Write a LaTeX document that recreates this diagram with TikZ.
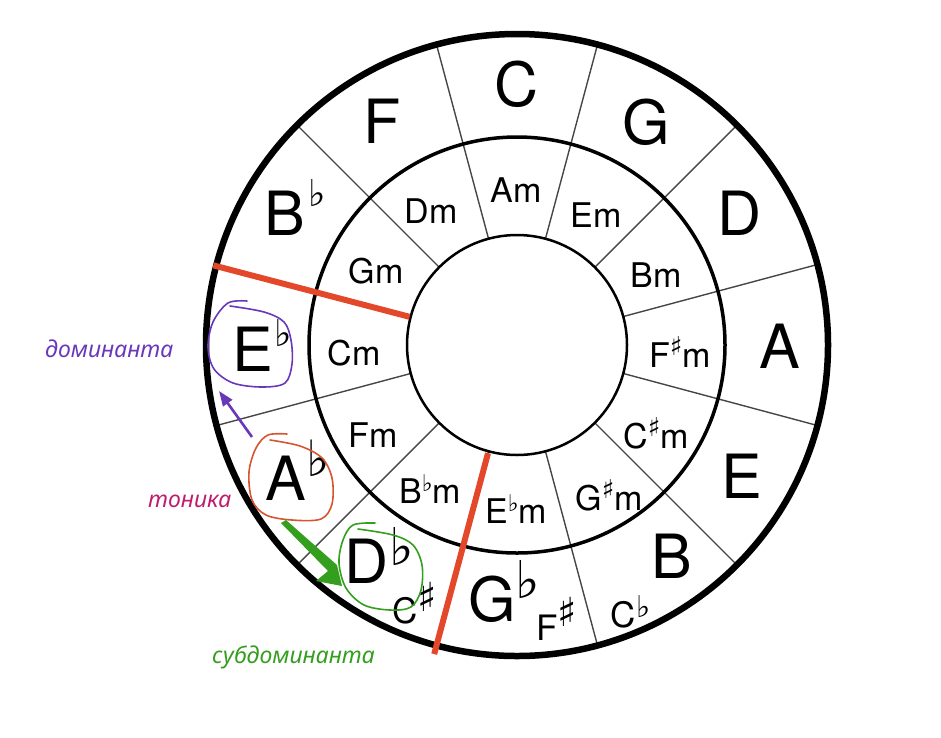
\documentclass[tikz,border=0pt]{standalone}
\usepackage{fontspec}
\setmainfont{TeX Gyre Heros}
\newfontfamily\cyrfont{Noto Sans}
\newfontfamily\accfont{DejaVu Sans}
\usetikzlibrary{calc,arrows.meta}
\definecolor{redline}{RGB}{228,72,43}
\definecolor{domcol}{RGB}{104,56,184}
\definecolor{toncol}{RGB}{190,28,108}
\definecolor{orangecol}{RGB}{214,84,48}
\definecolor{subcol}{RGB}{52,158,30}
\definecolor{radcol}{RGB}{70,70,70}
\tikzset{
  major/.style={anchor=base,inner sep=0pt,font=\fontsize{61}{61}\selectfont},
  minor/.style={anchor=base,inner sep=0pt,font=\fontsize{34}{34}\selectfont},
  small/.style={anchor=base,inner sep=0pt,font=\fontsize{35}{35}\selectfont},
  radial/.style={draw=radcol,line width=1.4pt},
  annot/.style={anchor=base west,inner sep=0pt,font=\cyrfont\itshape\fontsize{23}{23}\selectfont},
  loop/.style={line width=1.6pt,line cap=round,line join=round},
}
\newcommand\accsz[1]{\accfont\fontsize{#1}{#1}\selectfont}
\newsavebox\accbox
% #1 size, #2 height of ink centre above baseline, #3 glyph
\newcommand\acc[3]{%
  \sbox\accbox{\accsz{#1}#3}%
  \raisebox{\dimexpr #2 - (\ht\accbox - \dp\accbox)/2\relax}{\usebox\accbox}}
\newcommand\mfl{\acc{23}{20pt}{♭}}
\newcommand\msh{\acc{26}{21pt}{♯}}
\newcommand\after[1]{\rlap{#1}}
\begin{document}
\begin{tikzpicture}[x=1pt,y=-1pt]
\useasboundingbox (0,0) rectangle (941,737);
\coordinate (O) at (517,345);
% radial lines
\foreach \a in {15,45,...,345}
  \draw[radial] ($(O)+(\a:110pt)$) -- ($(O)+(\a:311pt)$);
% circles
\draw[line width=2.5pt] (O) circle[radius=110pt];
\draw[line width=3.5pt] (O) circle[radius=208pt];
\draw[line width=6.5pt] (O) circle[radius=311pt];
% red lines
\coordinate (r1a) at ($(O)+(165.3:111pt)$);
\coordinate (r1b) at ($(O)+(165.3:314pt)$);
\coordinate (r2a) at ($(O)+(255.0:112pt)$);
\coordinate (r2b) at ($(O)+(255.0:320pt)$);
\draw[redline,line width=6pt] (r1a) -- (r1b);
\draw[redline,line width=6pt] (r2a) -- (r2b);
% major keys
\node[major] (C) at (516.5,106) {C};
\node[major] (G) at (646,144) {G};
\node[major] (D) at (740,235) {D};
\node[major] (A) at (780,368) {A};
\node[major] (E) at (741.5,498) {E};
\node[major] (B) at (672,578) {B};
\node[major] (Gb) at (492,621) {G\after{\acc{52}{41pt}{♭}}};
\node[small] (Fs) at (547,640) {F\after{\acc{40}{28pt}{♯}}};
\node[small] (Cb) at (623.5,627) {C\after{\acc{30}{20pt}{♭}}};
\node[major] (Db) at (367,583) {D\after{\acc{52}{36pt}{♭}}};
\node[small] (Cs) at (405,623) {C\after{\acc{40}{26pt}{♯}}};
\node[major] (Ab) at (286,500) {A\after{\acc{50}{42pt}{♭}}};
\node[major] (Eb) at (253,371) {E\after{\kern1pt\acc{37}{38pt}{♭}}};
\node[major] (Bb) at (285,235) {B\after{\kern3pt\acc{37}{42pt}{♭}}};
\node[major] (F) at (382,143) {F};
% minor keys
\node[minor] (Am) at (516,202) {Am};
\node[minor] (Em) at (596,227) {Em};
\node[minor] (Bm) at (656,287) {Bm};
\node[minor] (Fsm) at (680,367) {F\msh m};
\node[minor] (Csm) at (656,448) {C\msh m};
\node[minor] (Gsm) at (609,510) {G\msh m};
\node[minor] (Ebm) at (516,523) {E\mfl m};
\node[minor] (Bbm) at (430,503) {B\mfl m};
\node[minor] (Fm) at (373,447) {Fm};
\node[minor] (Cm) at (354,365) {Cm};
\node[minor] (Gm) at (376,283) {Gm};
\node[minor] (Dm) at (431,223) {Dm};
% annotations
\node[annot,text=domcol] (dom) at (45,357) {доминанта};
\node[annot,text=toncol] (ton) at (148,507) {тоника};
\node[annot,text=subcol] (sub) at (212,663) {субдоминанта};
\draw[loop,domcol] plot[smooth,tension=0.55] coordinates {(247,301) (228,303) (213,322) (208,347) (214,369) (233,383) (262,387) (285,383) (292,364) (291,340) (284,322) (264,312) (230,306)};
\draw[loop,orangecol] plot[smooth,tension=0.55] coordinates {(287,434) (268,435) (256,448) (249,472) (252,500) (266,515) (292,520) (321,519) (332,504) (332,478) (322,458) (300,446) (270,440)};
\draw[loop,subcol] plot[smooth,tension=0.55] coordinates {(375,523) (353,525) (343,540) (339,563) (346,588) (364,605) (390,610) (411,607) (421,590) (422,565) (413,545) (393,535) (358,529)};
\coordinate (pa1) at (252,437);
\coordinate (pa2) at (219,391);
\draw[domcol,line width=2.6pt,-{Triangle[length=15pt,width=11pt]}] (pa1) -- (pa2);
\fill[subcol] (281,523) -- (286,520) -- (337,565) -- (342,586) -- (316,581) -- (328,571) -- cycle;
\end{tikzpicture}
\end{document}
